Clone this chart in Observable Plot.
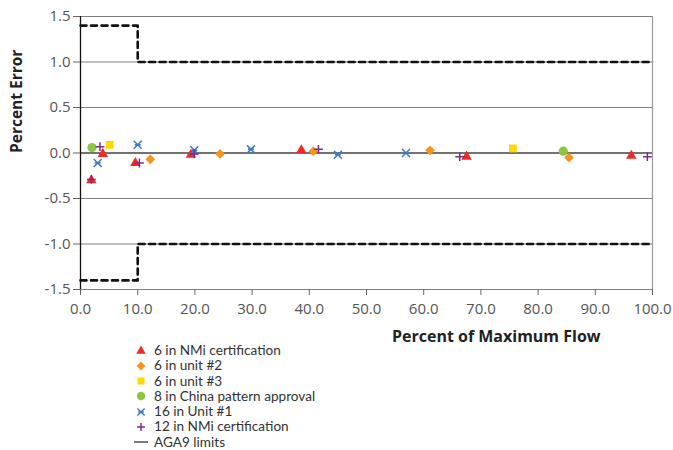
<!DOCTYPE html>
<html><head><meta charset="utf-8">
<script src="https://cdn.jsdelivr.net/npm/d3@7"></script>
<script src="https://cdn.jsdelivr.net/npm/@observablehq/plot@0.6"></script>
<style>
body{margin:0;background:#fff;font-family:"Open Sans",sans-serif;overflow:hidden;}
#legend{position:relative;margin-left:133px;margin-top:-9px;font-family:Lato,"Open Sans",sans-serif;font-size:13.6px;color:#333;}
.li{display:flex;align-items:center;height:15.25px;line-height:15.25px;}
.li svg{width:16px;height:14px;margin-right:5px;flex:none;}
</style></head><body>
<div id="chart"></div>
<div id="legend"></div>
<script>
const nmi6X = [1.9, 3.9, 9.6, 19.3, 38.6, 67.5, 96.3];
const nmi6Y = [-0.30, -0.01, -0.11, -0.02, 0.03, -0.04, -0.03];
const unit2X = [12.2, 24.4, 40.7, 61.1, 85.4];
const unit2Y = [-0.07, -0.01, 0.02, 0.03, -0.05];
const unit3X = [5.1, 75.6];
const unit3Y = [0.09, 0.05];
const chinaX = [2.0, 84.4];
const chinaY = [0.06, 0.02];
const unit1X = [3.0, 10.0, 19.9, 29.8, 45.0, 56.9];
const unit1Y = [-0.11, 0.09, 0.03, 0.04, -0.02, 0.00];
const nmi12X = [1.9, 3.4, 10.3, 19.9, 41.6, 66.3, 99.1];
const nmi12Y = [-0.29, 0.07, -0.11, -0.01, 0.04, -0.04, -0.04];
const limX = [0, 10, 10, 100];
const limUpper = [1.4, 1.4, 1.0, 1.0];
const limLower = [-1.4, -1.4, -1.0, -1.0];
const xTicks = [0,10,20,30,40,50,60,70,80,90,100];
const yTicks = [-1.5,-1.0,-0.5,0,0.5,1.0,1.5];
const seriesNames = ["6 in NMi certification","6 in unit #2","6 in unit #3","8 in China pattern approval","16 in Unit #1","12 in NMi certification","AGA9 limits"];

// Excel-style star marker: an x with a horizontal bar
const star = {
  draw(context, size) {
    const r = Math.sqrt(size / Math.PI);
    const d = r * 0.8;
    context.moveTo(-d, -d); context.lineTo(d, d);
    context.moveTo(-d, d); context.lineTo(d, -d);
    context.moveTo(-r * 0.6, 0); context.lineTo(r * 0.6, 0);
  }
};
const plusSym = {
  draw(context, size) {
    const r = Math.sqrt(size / Math.PI);
    context.moveTo(-r, 0); context.lineTo(r, 0);
    context.moveTo(0, -r); context.lineTo(0, r);
  }
};

const zip = (xs, ys) => xs.map((x,i)=>({x, y: ys[i]}));
const series = [
  {name: seriesNames[0], data: zip(nmi6X,nmi6Y), symbol: d3.symbolTriangle, color:"#ee2b24", r:3.9, fill:true},
  {name: seriesNames[1], data: zip(unit2X,unit2Y), symbol: d3.symbolDiamond2, color:"#f7941d", r:4.4, fill:true},
  {name: seriesNames[2], data: zip(unit3X,unit3Y), symbol: d3.symbolSquare, color:"#ffd800", r:4.4, fill:true},
  {name: seriesNames[3], data: zip(chinaX,chinaY), symbol: d3.symbolCircle, color:"#8dc63f", r:4.6, fill:true},
  {name: seriesNames[4], data: zip(unit1X,unit1Y), symbol: star, color:"#3f78c4", r:5, fill:false},
  {name: seriesNames[5], data: zip(nmi12X,nmi12Y), symbol: plusSym, color:"#7b2a8e", r:4.4, fill:false}
];

const dotMarks = series.map(s => Plot.dot(s.data, {x:"x", y:"y", symbol: s.symbol, r: s.r,
  fill: s.fill ? s.color : "none", stroke: s.fill ? "none" : s.color, strokeWidth: 1.5}));

const fmt = d => d.toFixed(1);
const plot = Plot.plot({
  width: 673, height: 352,
  marginLeft: 80, marginRight: 21, marginTop: 16, marginBottom: 63,
  style: {fontFamily: '"Open Sans",sans-serif', fontSize: "15px", color:"#555"},
  x: {domain:[0,100]},
  y: {domain:[-1.5,1.5]},
  marks: [
    Plot.ruleY(yTicks.filter(d=>d!==0), {stroke:"#7f7f7f", strokeWidth:1.2}),
    Plot.ruleY([0], {stroke:"#444", strokeWidth:1.5}),
    Plot.ruleX([100], {stroke:"#9a9a9a", strokeWidth:1.2}),
    Plot.ruleX([0], {stroke:"#111", strokeWidth:1.3}),
    Plot.axisX({ticks: xTicks, tickFormat: fmt, tickSize: 6, tickPadding: 8, stroke:"#666", label: null, fill:"#555"}),
    Plot.axisY({ticks: yTicks, tickFormat: fmt, tickSize: 7, tickPadding: 3, stroke:"#666", label: null, fill:"#555"}),
    Plot.line(limX.map((x,i)=>({x, y: limUpper[i]})), {x:"x", y:"y", stroke:"#111", strokeWidth:2.6, strokeDasharray:"6,4.5"}),
    Plot.line(limX.map((x,i)=>({x, y: limLower[i]})), {x:"x", y:"y", stroke:"#111", strokeWidth:2.6, strokeDasharray:"6,4.5"}),
    ...dotMarks,
    Plot.text(["Percent of Maximum Flow"], {frameAnchor:"bottom-right", textAnchor:"end", dx:-52, dy:52, fontWeight:"bold", fontSize:16, fill:"#222"}),
    Plot.text(["Percent Error"], {frameAnchor:"left", rotate:-90, dx:-63, fontWeight:"bold", fontSize:15.5, fill:"#222"})
  ]
});
document.getElementById("chart").appendChild(plot);

// Legend
const legend = d3.select("#legend");
series.forEach(s => {
  const row = legend.append("div").attr("class","li");
  const svg = row.append("svg").attr("viewBox","-8 -7 16 14");
  const rr = s.r * 0.9;
  svg.append("path").attr("d", d3.symbol(s.symbol, Math.PI*rr*rr)())
    .attr("fill", s.fill ? s.color : "none").attr("stroke", s.fill ? "none" : s.color).attr("stroke-width", 1.4);
  row.append("span").text(s.name);
});
const lrow = legend.append("div").attr("class","li");
const lsvg = lrow.append("svg").attr("viewBox","-8 -7 16 14");
lsvg.append("line").attr("x1",-7).attr("x2",7).attr("y1",0).attr("y2",0).attr("stroke","#333").attr("stroke-width",1.3);
lrow.append("span").text(seriesNames[6]);
</script>
</body></html>
